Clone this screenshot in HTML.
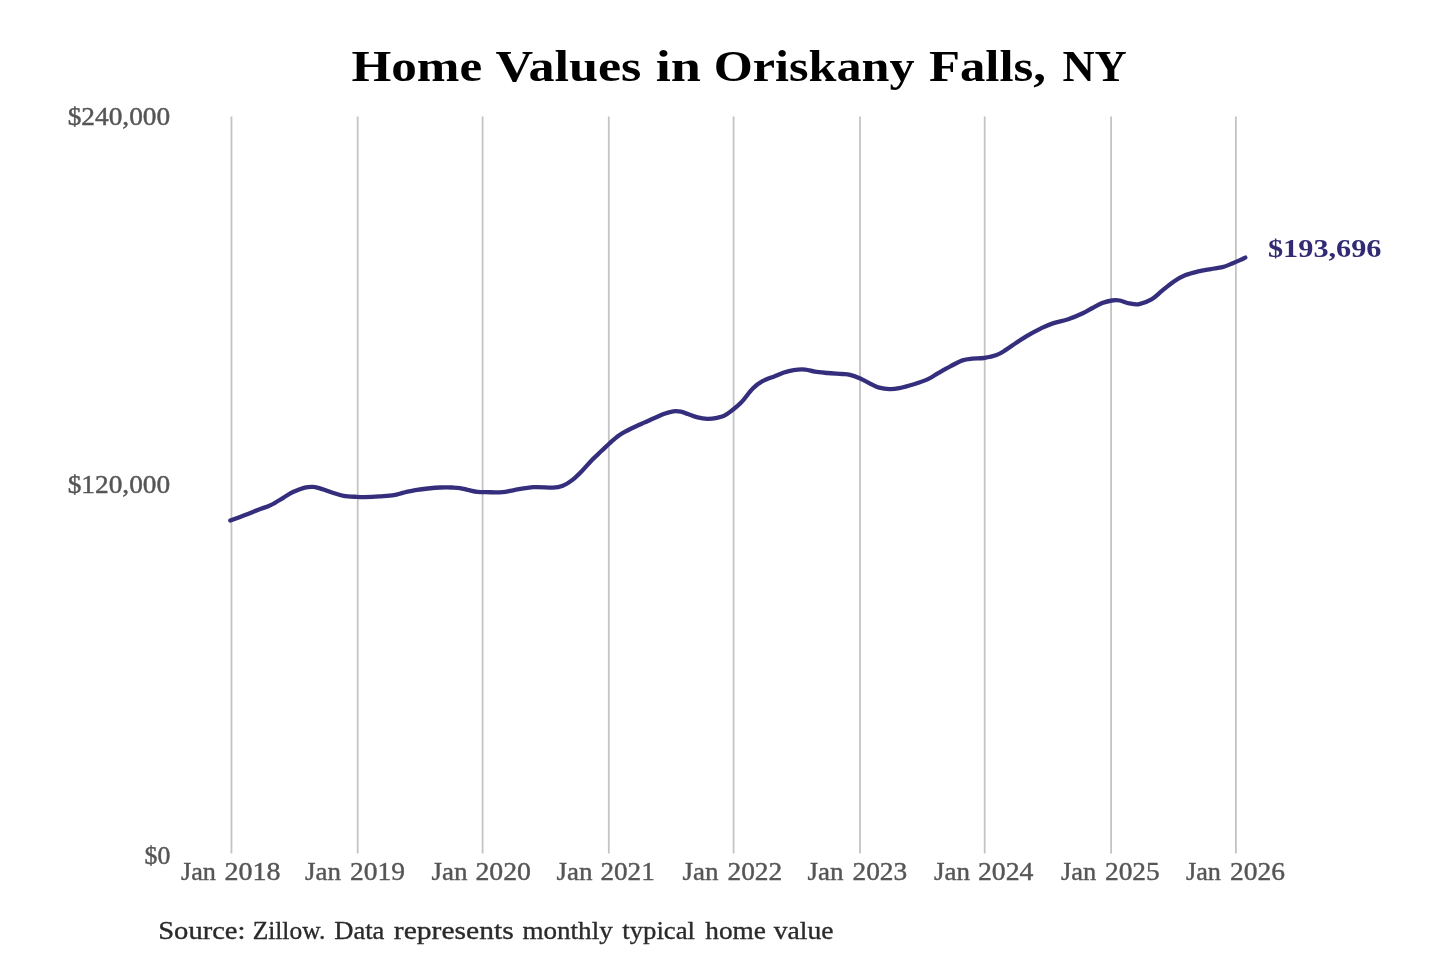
<!DOCTYPE html>
<html><head><meta charset="utf-8"><style>
html,body{margin:0;padding:0;background:#fff;}
body{width:1440px;height:960px;overflow:hidden;}
svg{display:block;}
text{font-family:"Liberation Serif",serif;}
</style></head><body>
<svg width="1440" height="960" viewBox="0 0 1440 960">
<defs><filter id="bl" x="-5%" y="-5%" width="110%" height="110%"><feGaussianBlur stdDeviation="0.3"/></filter></defs>
<rect width="1440" height="960" fill="#fff"/>
<g filter="url(#bl)">
<g stroke="#c4c4c4" stroke-width="1.8">
<line x1="231.45" y1="116.5" x2="231.45" y2="853.5"/>
<line x1="357.70" y1="116.5" x2="357.70" y2="853.5"/>
<line x1="482.60" y1="116.5" x2="482.60" y2="853.5"/>
<line x1="608.80" y1="116.5" x2="608.80" y2="853.5"/>
<line x1="733.60" y1="116.5" x2="733.60" y2="853.5"/>
<line x1="860.00" y1="116.5" x2="860.00" y2="853.5"/>
<line x1="984.70" y1="116.5" x2="984.70" y2="853.5"/>
<line x1="1111.10" y1="116.5" x2="1111.10" y2="853.5"/>
<line x1="1235.90" y1="116.5" x2="1235.90" y2="853.5"/>
</g>
<path d="M230.3,520.5 C232.7,519.6 239.6,517.1 244.4,515.3 C249.2,513.5 254.6,511.2 259.0,509.5 C263.4,507.8 266.6,507.1 270.7,505.1 C274.8,503.2 279.6,500.0 283.3,497.8 C287.0,495.6 289.4,493.7 293.0,492.0 C296.6,490.3 301.3,488.5 304.7,487.6 C308.1,486.8 310.6,486.6 313.5,486.9 C316.4,487.1 319.1,488.2 322.2,489.1 C325.3,490.0 328.4,491.4 332.0,492.5 C335.6,493.6 339.4,495.2 343.6,495.9 C347.8,496.6 353.7,496.7 357.2,496.9 C360.7,497.1 361.0,497.3 364.7,497.2 C368.4,497.1 374.4,496.8 379.3,496.4 C384.2,496.0 389.8,495.7 393.9,495.1 C397.9,494.5 400.0,493.4 403.6,492.6 C407.2,491.8 411.2,490.9 415.3,490.2 C419.4,489.5 423.7,488.9 427.9,488.5 C432.1,488.1 436.6,487.7 440.6,487.5 C444.7,487.3 449.0,487.4 452.2,487.5 C455.4,487.6 457.4,487.6 460.0,488.0 C462.6,488.4 464.9,489.2 467.8,489.9 C470.7,490.5 474.4,491.5 477.5,491.9 C480.6,492.3 482.0,492.2 486.2,492.2 C490.4,492.2 497.8,492.5 502.5,492.1 C507.2,491.7 509.0,490.8 514.2,490.0 C519.4,489.2 527.1,487.6 533.6,487.2 C540.1,486.8 548.1,487.9 553.0,487.7 C557.9,487.5 559.5,487.1 562.8,485.8 C566.0,484.5 569.3,482.4 572.5,479.9 C575.7,477.4 579.0,474.0 582.2,470.7 C585.5,467.4 588.8,463.3 592.0,460.0 C595.2,456.7 598.8,453.6 601.7,450.8 C604.6,448.1 606.8,445.9 609.4,443.5 C612.0,441.1 614.7,438.6 617.2,436.7 C619.8,434.8 621.0,433.9 624.7,431.9 C628.4,429.9 634.4,427.0 639.3,424.7 C644.2,422.4 649.8,420.1 653.9,418.3 C658.0,416.5 660.4,415.2 663.6,414.0 C666.8,412.8 670.4,411.7 673.3,411.3 C676.2,410.9 678.7,411.2 681.1,411.7 C683.5,412.1 685.1,413.1 687.9,414.0 C690.6,414.9 694.4,416.6 697.6,417.4 C700.9,418.2 704.1,418.7 707.4,418.8 C710.6,418.9 714.4,418.3 717.1,417.8 C719.9,417.3 721.5,417.1 723.9,415.9 C726.3,414.7 728.8,412.9 731.7,410.6 C734.6,408.3 737.9,406.0 741.4,402.3 C744.9,398.6 749.3,392.0 752.8,388.5 C756.3,385.0 758.9,383.2 762.5,381.2 C766.1,379.2 770.6,377.8 774.2,376.4 C777.8,374.9 780.7,373.6 783.9,372.5 C787.1,371.4 790.0,370.6 793.6,370.1 C797.2,369.6 801.7,369.3 805.3,369.6 C808.9,369.9 811.3,371.1 815.0,371.7 C818.7,372.3 823.1,372.6 827.6,373.0 C832.1,373.4 838.5,373.7 842.2,374.0 C845.9,374.3 847.1,374.2 850.0,374.9 C852.9,375.6 856.1,376.8 859.7,378.3 C863.3,379.9 868.1,382.6 871.4,384.2 C874.6,385.8 876.2,386.8 879.2,387.6 C882.2,388.4 886.2,389.0 889.6,389.1 C893.0,389.2 895.2,388.9 899.3,388.1 C903.3,387.3 909.0,385.7 913.9,384.2 C918.8,382.7 924.5,380.8 928.5,378.9 C932.5,377.0 934.5,375.2 938.2,373.1 C941.9,371.0 946.8,368.2 950.8,366.1 C954.8,364.0 958.9,361.6 962.5,360.4 C966.1,359.2 968.6,359.1 972.2,358.7 C975.8,358.3 979.9,358.6 983.9,358.0 C987.9,357.4 992.8,356.5 996.5,355.1 C1000.2,353.7 1002.8,351.8 1006.2,349.7 C1009.6,347.6 1012.9,345.0 1016.7,342.5 C1020.6,340.0 1025.1,337.1 1029.3,334.7 C1033.5,332.3 1037.9,329.8 1041.9,327.9 C1046.0,326.0 1049.2,324.6 1053.6,323.1 C1058.0,321.7 1063.3,320.8 1068.2,319.2 C1073.1,317.6 1078.8,315.2 1082.8,313.3 C1086.8,311.4 1089.3,309.7 1092.5,308.0 C1095.7,306.3 1099.0,304.4 1102.2,303.1 C1105.4,301.9 1109.0,300.9 1111.9,300.5 C1114.8,300.1 1116.8,300.0 1119.7,300.5 C1122.6,301.0 1126.2,302.8 1129.4,303.4 C1132.7,304.0 1135.5,304.8 1139.2,304.1 C1142.9,303.4 1147.7,301.6 1151.5,299.4 C1155.3,297.2 1158.5,293.7 1162.2,290.7 C1165.9,287.7 1170.0,284.1 1173.9,281.5 C1177.8,278.9 1181.5,276.8 1185.6,275.1 C1189.6,273.4 1194.0,272.4 1198.2,271.4 C1202.4,270.4 1206.8,269.8 1210.8,269.1 C1214.8,268.4 1218.9,268.1 1222.5,267.2 C1226.1,266.3 1229.3,264.7 1232.2,263.5 C1235.1,262.3 1237.8,261.1 1240.0,260.1 C1242.2,259.1 1244.4,258.0 1245.3,257.6" fill="none" stroke="#342f7c" stroke-width="4.3" stroke-linecap="round" stroke-linejoin="round"/>
<text x="351.48" y="81.1" font-size="44.5" font-weight="bold" fill="#000" textLength="130.74" lengthAdjust="spacingAndGlyphs">Home</text>
<text x="495.59" y="81.1" font-size="44.5" font-weight="bold" fill="#000" textLength="145.82" lengthAdjust="spacingAndGlyphs">Values</text>
<text x="655.84" y="81.1" font-size="44.5" font-weight="bold" fill="#000" textLength="45.19" lengthAdjust="spacingAndGlyphs">in</text>
<text x="713.76" y="81.1" font-size="44.5" font-weight="bold" fill="#000" textLength="200.75" lengthAdjust="spacingAndGlyphs">Oriskany</text>
<text x="928.97" y="81.1" font-size="44.5" font-weight="bold" fill="#000" textLength="117.08" lengthAdjust="spacingAndGlyphs">Falls,</text>
<text x="1062.38" y="81.1" font-size="44.5" font-weight="bold" fill="#000" textLength="64.44" lengthAdjust="spacingAndGlyphs">NY</text>
<text x="158.24" y="938.8" font-size="25.5" fill="#2a2a2a" stroke="#2a2a2a" stroke-width="0.35" textLength="87.23" lengthAdjust="spacingAndGlyphs">Source:</text>
<text x="252.66" y="938.8" font-size="25.5" fill="#2a2a2a" stroke="#2a2a2a" stroke-width="0.35" textLength="72.60" lengthAdjust="spacingAndGlyphs">Zillow.</text>
<text x="334.30" y="938.8" font-size="25.5" fill="#2a2a2a" stroke="#2a2a2a" stroke-width="0.35" textLength="50.11" lengthAdjust="spacingAndGlyphs">Data</text>
<text x="393.79" y="938.8" font-size="25.5" fill="#2a2a2a" stroke="#2a2a2a" stroke-width="0.35" textLength="119.92" lengthAdjust="spacingAndGlyphs">represents</text>
<text x="522.49" y="938.8" font-size="25.5" fill="#2a2a2a" stroke="#2a2a2a" stroke-width="0.35" textLength="90.22" lengthAdjust="spacingAndGlyphs">monthly</text>
<text x="622.28" y="938.8" font-size="25.5" fill="#2a2a2a" stroke="#2a2a2a" stroke-width="0.35" textLength="72.72" lengthAdjust="spacingAndGlyphs">typical</text>
<text x="705.28" y="938.8" font-size="25.5" fill="#2a2a2a" stroke="#2a2a2a" stroke-width="0.35" textLength="60.71" lengthAdjust="spacingAndGlyphs">home</text>
<text x="773.71" y="938.8" font-size="25.5" fill="#2a2a2a" stroke="#2a2a2a" stroke-width="0.35" textLength="59.81" lengthAdjust="spacingAndGlyphs">value</text>
<text x="67.69" y="124.8" font-size="25.5" fill="#555" stroke="#555" stroke-width="0.45" textLength="102.52" lengthAdjust="spacingAndGlyphs">$240,000</text>
<text x="67.69" y="492.8" font-size="25.5" fill="#555" stroke="#555" stroke-width="0.45" textLength="102.52" lengthAdjust="spacingAndGlyphs">$120,000</text>
<text x="144.53" y="863.7" font-size="25.5" fill="#555" stroke="#555" stroke-width="0.45" textLength="25.76" lengthAdjust="spacingAndGlyphs">$0</text>
<text x="180.99" y="879.6" font-size="25.5" fill="#555" stroke="#555" stroke-width="0.4" textLength="35.01" lengthAdjust="spacingAndGlyphs">Jan</text>
<text x="224.48" y="879.6" font-size="25.5" fill="#555" stroke="#555" stroke-width="0.4" textLength="56.05" lengthAdjust="spacingAndGlyphs">2018</text>
<text x="304.98" y="879.6" font-size="25.5" fill="#555" stroke="#555" stroke-width="0.4" textLength="36.02" lengthAdjust="spacingAndGlyphs">Jan</text>
<text x="349.99" y="879.6" font-size="25.5" fill="#555" stroke="#555" stroke-width="0.4" textLength="55.05" lengthAdjust="spacingAndGlyphs">2019</text>
<text x="431.48" y="879.6" font-size="25.5" fill="#555" stroke="#555" stroke-width="0.4" textLength="36.03" lengthAdjust="spacingAndGlyphs">Jan</text>
<text x="475.45" y="879.6" font-size="25.5" fill="#555" stroke="#555" stroke-width="0.4" textLength="55.57" lengthAdjust="spacingAndGlyphs">2020</text>
<text x="556.49" y="879.6" font-size="25.5" fill="#555" stroke="#555" stroke-width="0.4" textLength="36.02" lengthAdjust="spacingAndGlyphs">Jan</text>
<text x="600.43" y="879.6" font-size="25.5" fill="#555" stroke="#555" stroke-width="0.4" textLength="54.40" lengthAdjust="spacingAndGlyphs">2021</text>
<text x="682.49" y="879.6" font-size="25.5" fill="#555" stroke="#555" stroke-width="0.4" textLength="36.03" lengthAdjust="spacingAndGlyphs">Jan</text>
<text x="727.45" y="879.6" font-size="25.5" fill="#555" stroke="#555" stroke-width="0.4" textLength="54.85" lengthAdjust="spacingAndGlyphs">2022</text>
<text x="807.49" y="879.6" font-size="25.5" fill="#555" stroke="#555" stroke-width="0.4" textLength="36.03" lengthAdjust="spacingAndGlyphs">Jan</text>
<text x="852.46" y="879.6" font-size="25.5" fill="#555" stroke="#555" stroke-width="0.4" textLength="54.79" lengthAdjust="spacingAndGlyphs">2023</text>
<text x="933.99" y="879.6" font-size="25.5" fill="#555" stroke="#555" stroke-width="0.4" textLength="36.01" lengthAdjust="spacingAndGlyphs">Jan</text>
<text x="977.96" y="879.6" font-size="25.5" fill="#555" stroke="#555" stroke-width="0.4" textLength="55.55" lengthAdjust="spacingAndGlyphs">2024</text>
<text x="1060.98" y="879.6" font-size="25.5" fill="#555" stroke="#555" stroke-width="0.4" textLength="35.26" lengthAdjust="spacingAndGlyphs">Jan</text>
<text x="1104.98" y="879.6" font-size="25.5" fill="#555" stroke="#555" stroke-width="0.4" textLength="54.79" lengthAdjust="spacingAndGlyphs">2025</text>
<text x="1185.98" y="879.6" font-size="25.5" fill="#555" stroke="#555" stroke-width="0.4" textLength="35.03" lengthAdjust="spacingAndGlyphs">Jan</text>
<text x="1229.98" y="879.6" font-size="25.5" fill="#555" stroke="#555" stroke-width="0.4" textLength="55.03" lengthAdjust="spacingAndGlyphs">2026</text>
<text x="1267.98" y="257.1" font-size="25.5" font-weight="bold" fill="#302c72" textLength="113.54" lengthAdjust="spacingAndGlyphs">$193,696</text>
</g>
</svg>
</body></html>
